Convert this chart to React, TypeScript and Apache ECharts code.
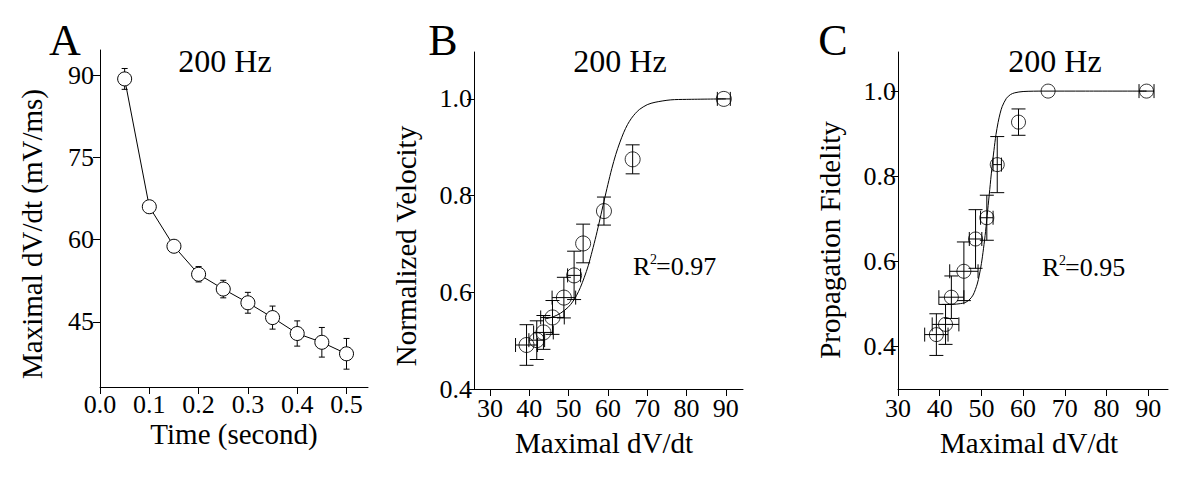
import React, { useEffect, useRef } from "react";
import * as echarts from "echarts";

// ---------- Panel A: Maximal dV/dt over time ----------
const timeA = [0.05, 0.1, 0.15, 0.2, 0.25, 0.3, 0.35, 0.4, 0.45, 0.5];
const dvdtA = [89.3, 66.0, 58.8, 53.7, 51.0, 48.5, 45.8, 42.9, 41.3, 39.2];
const dvdtErrA = [1.9, 1.1, 1.0, 1.4, 1.6, 1.9, 2.1, 2.3, 2.7, 2.8];
const xTicksA = [0, 0.1, 0.2, 0.3, 0.4, 0.5];
const yTicksA = [45, 60, 75, 90];

// ---------- Panel B: Normalized velocity vs maximal dV/dt ----------
const dvdtB = [39.3, 41.9, 43.6, 45.9, 48.8, 51.4, 53.7, 59.0, 66.3, 89.5];
const velB = [0.491, 0.501, 0.517, 0.548, 0.589, 0.635, 0.701, 0.768, 0.875, 1.0];
const dvdtErrB = [2.8, 2.0, 2.5, 3.0, 3.0, 1.65, 0, 0, 0, 1.65];
const velErrB = [0.042, 0.04, 0.035, 0.035, 0.042, 0.05, 0.04, 0.029, 0.03, 0];
const fitXB = [44, 46, 48, 50, 51, 52, 53, 54, 55, 56, 57, 58, 59, 60, 61, 62, 63, 64, 65, 66, 67, 68, 70, 72, 76, 80, 90];
const fitYB = [0.545, 0.549, 0.557, 0.57, 0.58, 0.593, 0.61, 0.631, 0.655, 0.685, 0.717, 0.752, 0.788, 0.823, 0.856, 0.885, 0.909, 0.93, 0.947, 0.96, 0.97, 0.978, 0.988, 0.993, 0.998, 0.999, 1.0];
const yTicksB = [0.4, 0.6, 0.8, 1.0];

// ---------- Panel C: Propagation fidelity vs maximal dV/dt ----------
const dvdtC = [39.2, 41.4, 42.8, 45.8, 48.6, 51.3, 53.8, 58.9, 66.0, 89.6];
const fidC = [0.427, 0.451, 0.515, 0.576, 0.652, 0.702, 0.827, 0.927, 1.0, 1.0];
const dvdtErrC = [2.8, 3.2, 3.0, 3.4, 1.5, 1.5, 1.0, 0, 0, 1.8];
const fidErrC = [0.049, 0.047, 0.05, 0.069, 0.069, 0.053, 0.066, 0.031, 0, 0];
const fitXC = [40.5, 43, 45, 46, 47, 48, 49, 49.5, 50, 50.5, 51, 51.5, 52, 52.5, 53, 53.5, 54, 54.5, 55, 56, 57, 58, 60, 65, 75, 89.6];
const fitYC = [0.498, 0.498, 0.5, 0.502, 0.508, 0.52, 0.546, 0.567, 0.594, 0.629, 0.67, 0.719, 0.768, 0.817, 0.86, 0.898, 0.926, 0.948, 0.964, 0.983, 0.992, 0.996, 0.999, 1.0, 1.0, 1.0];
const yTicksC = [0.4, 0.6, 0.8, 1.0];

const xTicksBC = [30, 40, 50, 60, 70, 80, 90];

const FONT = "'Liberation Serif', 'DejaVu Serif', serif";

function errorBars(gi: number, xs: number[], ys: number[], xErr: number[], yErr: number[], cap: number) {
  return {
    type: "custom",
    xAxisIndex: gi,
    yAxisIndex: gi,
    z: 2,
    silent: true,
    data: xs.map((x, i) => [x, ys[i], xErr[i], yErr[i]]),
    renderItem: (_params: any, api: any) => {
      const x = api.value(0);
      const y = api.value(1);
      const ex = api.value(2);
      const ey = api.value(3);
      const st = { stroke: "#000", lineWidth: 1, fill: null };
      const children: any[] = [];
      const seg = (x1: number, y1: number, x2: number, y2: number) =>
        children.push({ type: "line", shape: { x1, y1, x2, y2 }, style: st });
      if (ey > 0) {
        const t = api.coord([x, y + ey]);
        const b = api.coord([x, y - ey]);
        seg(t[0], t[1], b[0], b[1]);
        seg(t[0] - cap, t[1], t[0] + cap, t[1]);
        seg(b[0] - cap, b[1], b[0] + cap, b[1]);
      }
      if (ex > 0) {
        const l = api.coord([x - ex, y]);
        const r = api.coord([x + ex, y]);
        seg(l[0], l[1], r[0], r[1]);
        seg(l[0], l[1] - cap, l[0], l[1] + cap);
        seg(r[0], r[1] - cap, r[0], r[1] + cap);
      }
      return { type: "group", children };
    },
  };
}

function valueAxis(gi: number, min: number, max: number, ticks: number[], fmt: (v: number) => string, margin: number) {
  return {
    type: "value",
    gridIndex: gi,
    min,
    max,
    splitLine: { show: false },
    axisLine: { show: true, onZero: false, lineStyle: { color: "#000", width: 1 } },
    axisTick: { show: true, length: 7, inside: false, customValues: ticks, lineStyle: { color: "#000", width: 1 } },
    axisLabel: {
      show: true,
      customValues: ticks,
      formatter: (v: number) => fmt(v),
      color: "#000",
      fontFamily: FONT,
      fontSize: 26,
      margin,
    },
  };
}

function txt(text: string, x: number, y: number, size: number, opts: any = {}) {
  return {
    type: "text",
    x,
    y,
    rotation: opts.rotation || 0,
    silent: true,
    style: {
      text,
      fill: "#000",
      font: `${size}px ${FONT}`,
      align: opts.align || "center",
      verticalAlign: "middle",
    },
  };
}

export default function App() {
  const ref = useRef<HTMLDivElement>(null);

  useEffect(() => {
    if (!ref.current) return;
    const chart = echarts.init(ref.current, undefined, { renderer: "svg" });
    const circleStyle = { color: "rgba(0,0,0,0)", borderColor: "#000", borderWidth: 1 };

    chart.setOption({
      animation: false,
      backgroundColor: "#fff",
      grid: [
        { left: 100, top: 50, width: 268, height: 337 },
        { left: 474, top: 52, width: 269, height: 337 },
        { left: 898, top: 52, width: 270, height: 337 },
      ],
      xAxis: [
        valueAxis(0, 0, 0.5436, xTicksA, (v) => v.toFixed(1), 4),
        valueAxis(1, 25.93, 94.38, xTicksBC, (v) => String(v), 6),
        valueAxis(2, 30, 94.75, xTicksBC, (v) => String(v), 6),
      ],
      yAxis: [
        valueAxis(0, 33.15, 94.57, yTicksA, (v) => String(v), 6),
        valueAxis(1, 0.4, 1.097, yTicksB, (v) => v.toFixed(1), 2),
        valueAxis(2, 0.299, 1.092, yTicksC, (v) => v.toFixed(1), 2),
      ],
      series: [
        errorBars(0, timeA, dvdtA, timeA.map(() => 0), dvdtErrA, 3),
        {
          type: "line",
          xAxisIndex: 0,
          yAxisIndex: 0,
          z: 3,
          data: timeA.map((t, i) => [t, dvdtA[i]]),
          symbol: "circle",
          symbolSize: 14,
          itemStyle: { color: "#fff", borderColor: "#000", borderWidth: 1 },
          lineStyle: { color: "#000", width: 1 },
        },
        {
          type: "line",
          xAxisIndex: 1,
          yAxisIndex: 1,
          z: 2,
          data: fitXB.map((x, i) => [x, fitYB[i]]),
          showSymbol: false,
          smooth: 0.3,
          lineStyle: { color: "#000", width: 1 },
        },
        errorBars(1, dvdtB, velB, dvdtErrB, velErrB, 7),
        {
          type: "scatter",
          xAxisIndex: 1,
          yAxisIndex: 1,
          z: 3,
          data: dvdtB.map((x, i) => [x, velB[i]]),
          symbol: "circle",
          symbolSize: 15,
          itemStyle: circleStyle,
        },
        {
          type: "line",
          xAxisIndex: 2,
          yAxisIndex: 2,
          z: 2,
          data: fitXC.map((x, i) => [x, fitYC[i]]),
          showSymbol: false,
          smooth: 0.3,
          lineStyle: { color: "#000", width: 1 },
        },
        errorBars(2, dvdtC, fidC, dvdtErrC, fidErrC, 7),
        {
          type: "scatter",
          xAxisIndex: 2,
          yAxisIndex: 2,
          z: 3,
          data: dvdtC.map((x, i) => [x, fidC[i]]),
          symbol: "circle",
          symbolSize: 14,
          itemStyle: circleStyle,
        },
      ],
      graphic: [
        txt("A", 65, 40, 44),
        txt("B", 443, 40, 44),
        txt("C", 833, 40, 44),
        txt("200 Hz", 225, 61, 32),
        txt("200 Hz", 620, 61, 32),
        txt("200 Hz", 1055, 61, 32),
        txt("Maximal dV/dt (mV/ms)", 32, 234, 29, { rotation: Math.PI / 2 }),
        txt("Normalized Velocity", 406, 246, 29, { rotation: Math.PI / 2 }),
        txt("Propagation Fidelity", 830, 240, 29, { rotation: Math.PI / 2 }),
        txt("Time (second)", 234, 434, 29),
        txt("Maximal dV/dt", 604, 443, 29),
        txt("Maximal dV/dt", 1029, 443, 29),
        txt("R", 633, 266, 26, { align: "left" }),
        txt("2", 650, 259, 14, { align: "left" }),
        txt("=0.97", 656, 266, 26, { align: "left" }),
        txt("R", 1042, 267, 26, { align: "left" }),
        txt("2", 1059, 260, 14, { align: "left" }),
        txt("=0.95", 1065, 267, 26, { align: "left" }),
      ],
    });
    return () => chart.dispose();
  }, []);

  return (
    <div
      ref={ref}
      style={{ position: "fixed", left: 0, top: 0, width: 1200, height: 480, background: "#fff" }}
    />
  );
}
